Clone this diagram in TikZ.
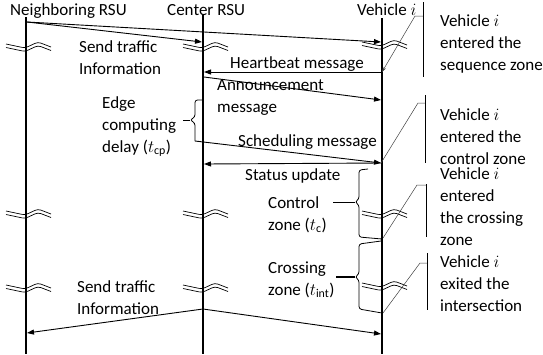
\documentclass[tikz,border=0pt]{standalone}
\usepackage{fontspec}
\setmainfont{Carlito}
\usetikzlibrary{arrows.meta, positioning}

\begin{document}
\begin{tikzpicture}[
    x=1pt, y=-1pt,
    every node/.style={inner sep=0pt, font=\fontsize{17}{22}\selectfont},
    txt/.style={anchor=base west, align=left},
    life/.style={line width=1.8pt},
    msg/.style={-{Triangle[length=7pt,width=5pt]}, line width=0.9pt},
    call/.style={line width=0.5pt, draw=black!75},
    callbar/.style={line width=0.7pt},
    curly/.style={line width=0.8pt, rounded corners=2.5pt},
    cut/.pic={
      \draw[line width=0.7pt, rounded corners=3pt] (-20,-2) -- (-1,2) -- (12,-4) -- (25,1);
      \draw[line width=0.7pt, rounded corners=3pt] (-20,1.5) -- (-1,5.5) -- (12,-0.5) -- (25,4.5);
    }
  ]
  \useasboundingbox (0,0) rectangle (543,354);

  % lifelines
  \node[txt] (nb) at (10,15) {Neighboring RSU};
  \node[txt] (cr) at (167,15) {Center RSU};
  \node[txt] (vh) at (357,15) {Vehicle $i$};
  \coordinate (nbT) at (26,17);  \coordinate (nbB) at (26,354);
  \coordinate (crT) at (203,15); \coordinate (crB) at (203,354);
  \coordinate (vhT) at (382,18); \coordinate (vhB) at (382,354);
  \draw[life] (nbT) -- (nbB);
  \draw[life] (crT) -- (crB);
  \draw[life] (vhT) -- (vhB);

  \foreach \x/\y in {26/46, 203/46, 382/44, 26/213, 203/213, 382/213, 26/287, 203/287, 382/285}
    \pic at (\x,\y) {cut};

  % message points
  \coordinate (n1) at (27,22);
  \coordinate (c1) at (202,42);
  \coordinate (v1) at (381,42);
  \coordinate (v2) at (382,72);
  \coordinate (c2) at (204,72);
  \coordinate (c3) at (204,77);
  \coordinate (v3) at (381,100);
  \coordinate (e4) at (195,141);
  \coordinate (v4) at (381,163);
  \coordinate (c5) at (204,164);
  \coordinate (c6) at (203,309);
  \coordinate (n6) at (27,333);
  \coordinate (v6) at (381,334);

  \draw[msg] (n1) -- (c1);
  \draw[msg] (n1) -- (v1);
  \draw[msg] (v2) -- (c2);
  \draw[msg] (c3) -- (v3);
  \draw[msg] (e4) -- (v4);
  \draw[msg] (v4) -- (c5);
  \draw[msg] (c6) -- (n6);
  \draw[msg] (c6) -- (v6);

  % message labels (base = last line)
  \node[txt] (send1) at (79,74) {Send traffic\\Information};
  \node[txt] (heart) at (230,68) {Heartbeat message};
  \node[txt] (annc) at (217,112) {Announcement\\message};
  \node[txt] (edge) at (102,152) {Edge\\computing\\delay ($t_{\mathrm{cp}}$)};
  \node[txt] (sched) at (238,146) {Scheduling message};
  \node[txt] (stat) at (245,180) {Status update};
  \node[txt] (ctrl) at (268,230) {Control\\zone ($t_{\mathrm{c}}$)};
  \node[txt] (cross) at (268,295) {Crossing\\zone ($t_{\mathrm{int}}$)};
  \node[txt] (send2) at (77,314) {Send traffic\\Information};

  % braces
  \draw[curly] (203,100) -- (195,100) -- (195,117) -- (190,120) -- (195,123) -- (e4);
  \draw[line width=0.8pt] (183,120) -- (190,120);
  \draw[curly] (368,169) -- (359,170) -- (359,199) -- (355,202) -- (359,205) -- (359,237) -- (382,239);
  \draw[line width=0.8pt] (333,202) -- (355,202);
  \draw[curly] (381,241) -- (359,244) -- (359,274) -- (355,277) -- (359,280) -- (359,309) -- (382,313);
  \draw[line width=1.3pt] (336,277) -- (355,277);

  % vehicle events
  \node[txt] (ev1) at (440,70) {Vehicle $i$\\entered the\\sequence zone};
  \node[txt] (ev2) at (440,164) {Vehicle $i$\\entered the\\control zone};
  \node[txt] (ev3) at (440,245) {Vehicle $i$\\entered\\the crossing\\zone};
  \node[txt] (ev4) at (440,311) {Vehicle $i$\\exited the\\intersection};

  \coordinate (b1t) at (423,2);   \coordinate (b1b) at (423,77);
  \coordinate (b1j) at (423,16);  \coordinate (b1k) at (415,16);
  \coordinate (b2t) at (425,95);  \coordinate (b2b) at (425,163);
  \coordinate (b2j) at (425,103); \coordinate (b2k) at (418,103);
  \coordinate (b3t) at (426,184); \coordinate (b3b) at (426,237);
  \coordinate (b3j) at (426,185); \coordinate (b3k) at (417,185);
  \coordinate (b4t) at (427,253); \coordinate (b4b) at (427,310);
  \coordinate (b4j) at (427,263); \coordinate (b4k) at (420,263);
  \coordinate (z3) at (383,238);  \coordinate (z4) at (383,313);

  \draw[callbar] (b1t) -- (b1b);
  \draw[callbar] (b2t) -- (b2b);
  \draw[callbar] (b3t) -- (b3b);
  \draw[callbar] (b4t) -- (b4b);
  \draw[call, -{Stealth[length=5pt,width=3pt]}] (b1j) -- (b1k) -- (v2);
  \draw[call] (b2j) -- (b2k) -- (v4);
  \draw[call] (b3j) -- (b3k) -- (z3);
  \draw[call] (b4j) -- (b4k) -- (z4);
\end{tikzpicture}
\end{document}
